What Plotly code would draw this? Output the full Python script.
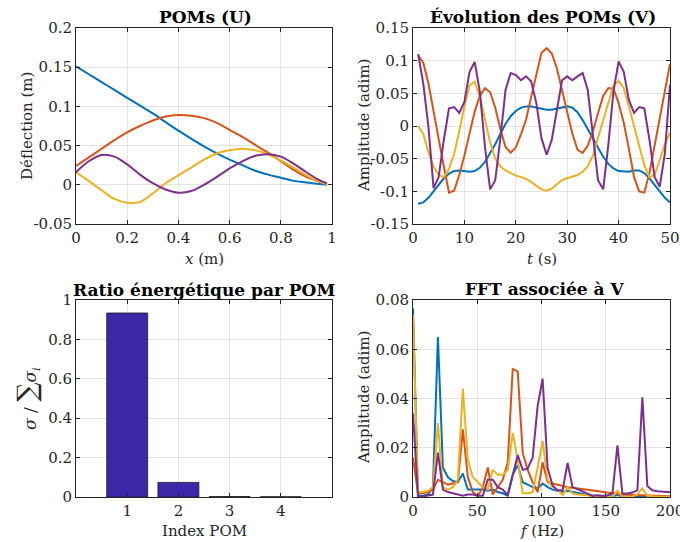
import plotly.graph_objects as go

# ---------------- data ----------------
# POMs (U)
x_pos = [0, 0.05, 0.1, 0.15, 0.2, 0.25, 0.3, 0.35, 0.4, 0.45, 0.5,
         0.55, 0.6, 0.65, 0.7, 0.75, 0.8, 0.85, 0.9, 0.95, 0.98]
u1 = [0.151, 0.141, 0.131, 0.121, 0.111, 0.101, 0.091, 0.080, 0.069, 0.059, 0.049,
      0.040, 0.032, 0.025, 0.018, 0.013, 0.009, 0.005, 0.003, 0.001, 0.000]
u2 = [0.024, 0.035, 0.046, 0.057, 0.067, 0.075, 0.082, 0.087, 0.089, 0.088, 0.085,
      0.079, 0.070, 0.061, 0.051, 0.041, 0.030, 0.019, 0.010, 0.004, 0.001]
u3 = [0.016, 0.005, -0.007, -0.018, -0.023, -0.022, -0.011, 0.002, 0.012, 0.022, 0.032,
      0.040, 0.044, 0.046, 0.044, 0.039, 0.031, 0.022, 0.012, 0.004, 0.001]
u4 = [0.016, 0.030, 0.038, 0.036, 0.026, 0.013, 0.002, -0.006, -0.010, -0.008, 0.000,
      0.010, 0.021, 0.030, 0.037, 0.039, 0.036, 0.027, 0.016, 0.006, 0.002]

# Évolution des POMs (V)
t_s = [1, 2, 3, 4, 5, 6, 7, 8, 9, 10, 11, 12, 13, 14, 15, 16, 17, 18, 19, 20,
       21, 22, 23, 24, 25, 26, 27, 28, 29, 30, 31, 32, 33, 34, 35, 36, 37, 38, 39, 40,
       41, 42, 43, 44, 45, 46, 47, 48, 49, 50]
v1 = [-0.119, -0.117, -0.110, -0.100, -0.090, -0.080, -0.073, -0.069, -0.068, -0.069,
      -0.070, -0.069, -0.064, -0.055, -0.042, -0.028, -0.012, 0.003, 0.015, 0.023,
      0.028, 0.030, 0.030, 0.028, 0.026, 0.025, 0.025, 0.027, 0.029, 0.030,
      0.028, 0.021, 0.009, -0.005, -0.020, -0.034, -0.047, -0.058, -0.065, -0.069,
      -0.070, -0.070, -0.068, -0.068, -0.072, -0.080, -0.090, -0.100, -0.110, -0.117]
v2 = [0.108, 0.097, 0.065, 0.025, -0.020, -0.062, -0.102, -0.099, -0.075, -0.045,
      -0.010, 0.022, 0.046, 0.058, 0.052, 0.028, -0.005, -0.032, -0.041, -0.033,
      -0.013, 0.010, 0.045, 0.080, 0.112, 0.119, 0.111, 0.088, 0.055, 0.020,
      -0.012, -0.036, -0.041, -0.030, -0.008, 0.020, 0.046, 0.058, 0.057, 0.035,
      0.005, -0.035, -0.078, -0.100, -0.102, -0.072, -0.030, 0.015, 0.055, 0.095]
v3 = [0.000, -0.012, -0.040, -0.062, -0.075, -0.078, -0.066, -0.043, -0.008, 0.030,
      0.062, 0.068, 0.045, 0.010, -0.025, -0.050, -0.062, -0.068, -0.072, -0.076,
      -0.078, -0.081, -0.086, -0.092, -0.097, -0.099, -0.096, -0.089, -0.083, -0.080,
      -0.078, -0.075, -0.070, -0.062, -0.045, -0.018, 0.012, 0.037, 0.062, 0.069,
      0.058, 0.030, 0.000, -0.032, -0.060, -0.078, -0.075, -0.052, -0.028, -0.010]
v4 = [0.110, 0.065, -0.001, -0.095, -0.078, -0.021, 0.027, 0.029, 0.020, 0.037,
      0.083, 0.098, 0.053, -0.032, -0.097, -0.083, -0.019, 0.055, 0.081, 0.078,
      0.070, 0.076, 0.068, 0.035, -0.019, -0.044, -0.021, 0.025, 0.070, 0.076,
      0.070, 0.076, 0.081, 0.055, -0.019, -0.083, -0.097, -0.029, 0.053, 0.099,
      0.083, 0.040, 0.020, 0.029, 0.027, -0.021, -0.078, -0.093, -0.042, 0.063]

# Ratio énergétique par POM
pom_index = [1, 2, 3, 4]
energy_ratio = [0.934, 0.074, 0.002, 0.001]

# FFT associée à V
freq = [0, 3.88, 7.76, 11.64, 15.52, 19.4, 23.28, 27.16, 31.04, 34.92, 38.8, 42.68,
        46.56, 50.44, 54.32, 58.2, 62.08, 65.96, 69.84, 73.72, 77.6, 81.48, 85.36,
        89.24, 93.12, 97.0, 100.88, 104.76, 108.64, 112.52, 116.4, 120.28, 124.16,
        128.04, 131.92, 135.8, 139.68, 143.56, 147.44, 151.32, 155.2, 159.08, 162.96,
        166.84, 170.72, 174.6, 178.48, 182.36, 186.24, 190.12, 194.0, 197.88, 201.76]
fft1 = [0.0765, 0.0005, 0.0005, 0.001, 0.004, 0.065, 0.012, 0.008, 0.0065, 0.006, 0.0095,
        0.003, 0.003, 0.003, 0.003, 0.0025, 0.003, 0.002, 0.0015, 0.0005, 0.009, 0.013,
        0.006, 0.005, 0.004, 0.0035, 0.0055, 0.004, 0.003, 0.0025, 0.002, 0.0025, 0.002,
        0.0015, 0.001, 0.0008, 0.0006, 0.0005, 0.0004, 0.0004, 0.0003, 0.0008, 0.0003,
        0.0002, 0.0002, 0.0002, 0.0005, 0.0002, 0.0002, 0.0001, 0.0001, 0.0001, 0.0001]
fft2 = [0.016, 0.0015, 0.0015, 0.002, 0.003, 0.007, 0.006, 0.005, 0.0055, 0.006, 0.0275,
        0.008, 0.002, 0.0003, 0.004, 0.012, 0.001, 0.004, 0.007, 0.014, 0.052, 0.051,
        0.018, 0.011, 0.006, 0.002, 0.014, 0.006, 0.0055, 0.005, 0.0045, 0.004, 0.0038,
        0.0035, 0.003, 0.0028, 0.0025, 0.0023, 0.002, 0.0018, 0.0016, 0.0012, 0.001,
        0.0009, 0.0008, 0.0007, 0.0006, 0.0005, 0.0004, 0.0004, 0.0003, 0.0003, 0.0003]
fft3 = [0.074, 0.002, 0.002, 0.0025, 0.004, 0.030, 0.004, 0.003, 0.004, 0.007, 0.044,
        0.015, 0.008, 0.006, 0.004, 0.003, 0.011, 0.009, 0.009, 0.011, 0.026, 0.015,
        0.0015, 0.0015, 0.002, 0.012, 0.0227, 0.007, 0.004, 0.003, 0.0008, 0.004, 0.0015,
        0.001, 0.0008, 0.0005, 0.0003, 0.0001, 0.0001, 0.0001, 0.0002, 0.0025, 0.0001,
        0.0001, 0.0002, 0.001, 0.0035, 0.0005, 0.0002, 0.0001, 0.0001, 0.0001, 0.0001]
fft4 = [0.034, 0.0001, 0.0002, 0.0005, 0.001, 0.018, 0.003, 0.002, 0.0015, 0.001, 0.0005,
        0.001, 0.001, 0.0005, 0.0005, 0.007, 0.007, 0.004, 0.003, 0.0008, 0.009, 0.017,
        0.011, 0.0115, 0.016, 0.037, 0.048, 0.0118, 0.0047, 0.0027, 0.0027, 0.0138, 0.004,
        0.003, 0.0023, 0.0014, 0.0004, 0.0007, 0.0004, 0.0007, 0.0014, 0.021, 0.0014,
        0.0014, 0.0018, 0.0027, 0.0405, 0.0045, 0.0027, 0.0023, 0.002, 0.002, 0.002]

# tick labels
tl_x_ticks = [0, 0.2, 0.4, 0.6, 0.8, 1]
tl_x_text = ["0", "0.2", "0.4", "0.6", "0.8", "1"]
tl_y_ticks = [-0.05, 0, 0.05, 0.1, 0.15, 0.2]
tl_y_text = ["-0.05", "0", "0.05", "0.1", "0.15", "0.2"]
tr_x_ticks = [0, 10, 20, 30, 40, 50]
tr_x_text = ["0", "10", "20", "30", "40", "50"]
tr_y_ticks = [-0.15, -0.1, -0.05, 0, 0.05, 0.1, 0.15]
tr_y_text = ["-0.15", "-0.1", "-0.05", "0", "0.05", "0.1", "0.15"]
bl_x_ticks = [1, 2, 3, 4]
bl_x_text = ["1", "2", "3", "4"]
bl_y_ticks = [0, 0.2, 0.4, 0.6, 0.8, 1]
bl_y_text = ["0", "0.2", "0.4", "0.6", "0.8", "1"]
br_x_ticks = [0, 50, 100, 150, 200]
br_x_text = ["0", "50", "100", "150", "200"]
br_y_ticks = [0, 0.02, 0.04, 0.06, 0.08]
br_y_text = ["0", "0.02", "0.04", "0.06", "0.08"]

# ---------------- styling ----------------
# the figure is a little wider than the 680 px window, so that the last tick
# label of the FFT panel is cut by the window edge as in the original
W, H = 700, 542
COLORS = ["#0072BD", "#D95319", "#EDB120", "#7E2F8E"]
BAR_COLOR = "#3E26A8"
FONT = "DejaVu Serif"
AX_COLOR = "#262626"
GRID = "#e3e3e3"


def px_x(p):
    return p / W


def px_y(p):
    return 1 - p / H


fig = go.Figure()

for ys, c in zip([u1, u2, u3, u4], COLORS):
    fig.add_trace(go.Scatter(x=x_pos, y=ys, mode="lines", line=dict(color=c, width=2, shape="spline"),
                             xaxis="x", yaxis="y", showlegend=False))
for ys, c in zip([v1, v2, v3, v4], COLORS):
    fig.add_trace(go.Scatter(x=t_s, y=ys, mode="lines", line=dict(color=c, width=2),
                             xaxis="x2", yaxis="y2", showlegend=False))
fig.add_trace(go.Bar(x=pom_index, y=energy_ratio, width=0.8,
                     marker=dict(color=BAR_COLOR, line=dict(color="#1a1a1a", width=0.8)),
                     xaxis="x3", yaxis="y3", showlegend=False))
for ys, c in zip([fft1, fft2, fft3, fft4], COLORS):
    fig.add_trace(go.Scatter(x=freq, y=ys, mode="lines", line=dict(color=c, width=2),
                             xaxis="x4", yaxis="y4", showlegend=False))

tickfont = dict(family=FONT, size=15, color=AX_COLOR)


def axis_common(rng, tv, tt, domain, anchor):
    return dict(range=rng, tickvals=tv, ticktext=tt, domain=domain, anchor=anchor,
                automargin=False,
                showline=True, mirror="ticks", linecolor=AX_COLOR, linewidth=1,
                ticks="inside", ticklen=4, tickcolor=AX_COLOR, tickwidth=1,
                showgrid=True, gridcolor=GRID, gridwidth=1, zeroline=False,
                tickfont=tickfont, fixedrange=True)


col1 = [px_x(76), px_x(332)]
col2 = [px_x(413), px_x(670)]
row1 = [px_y(224), px_y(28)]
row2 = [px_y(497), px_y(300)]

fig.update_layout(
    template="none",
    width=W, height=H, autosize=False,
    margin=dict(l=0, r=0, t=0, b=0, pad=0),
    paper_bgcolor="white", plot_bgcolor="white",
    font=dict(family=FONT, color=AX_COLOR),
    bargap=0,
    xaxis=axis_common([0, 1], tl_x_ticks, tl_x_text, col1, "y"),
    yaxis=axis_common([-0.05, 0.2], tl_y_ticks, tl_y_text, row1, "x"),
    xaxis2=axis_common([0, 50], tr_x_ticks, tr_x_text, col2, "y2"),
    yaxis2=axis_common([-0.15, 0.15], tr_y_ticks, tr_y_text, row1, "x2"),
    xaxis3=axis_common([0, 5], bl_x_ticks, bl_x_text, col1, "y3"),
    yaxis3=axis_common([0, 1], bl_y_ticks, bl_y_text, row2, "x3"),
    xaxis4=axis_common([0, 200], br_x_ticks, br_x_text, col2, "y4"),
    yaxis4=axis_common([0, 0.08], br_y_ticks, br_y_text, row2, "x4"),
)

ann = []
title_font = dict(family=FONT, size=17, color="#000000")
label_font = dict(family=FONT, size=15, color=AX_COLOR)
# titles
for txt, cx, cy in [("<b>POMs (U)</b>", 206, 17),
                    ("<b>Évolution des POMs (V)</b>", 543, 17),
                    ("<b>Ratio énergétique par POM</b>", 204, 290),
                    ("<b>FFT associée à V</b>", 544, 289)]:
    ann.append(dict(text=txt, x=px_x(cx), y=px_y(cy), xref="paper", yref="paper",
                    xanchor="center", yanchor="middle", showarrow=False, font=title_font))
# x labels
for txt, cx, cy in [("<i>x</i> (m)", 204, 259),
                    ("<i>t</i> (s)", 541.5, 259),
                    ("Index POM", 204, 531),
                    ("<i>f</i> (Hz)", 541.5, 531)]:
    ann.append(dict(text=txt, x=px_x(cx), y=px_y(cy), xref="paper", yref="paper",
                    xanchor="center", yanchor="middle", showarrow=False, font=label_font))
# y labels
sigma_label = ("<span style='font-size:17px'><i>σ</i> / </span>"
               "<span style='font-size:27px'>∑</span>"
               "<span style='font-size:17px'><i>σ<sub>i</sub></i></span>")
for txt, cx, cy in [("Déflection (m)", 27, 126),
                    ("Amplitude (adim)", 364, 126),
                    (sigma_label, 27, 399),
                    ("Amplitude (adim)", 364, 398)]:
    ann.append(dict(text=txt, x=px_x(cx), y=px_y(cy), xref="paper", yref="paper",
                    xanchor="center", yanchor="middle", textangle=-90, showarrow=False,
                    font=label_font))
fig.update_layout(annotations=ann)

fig.write_html("out.html",
               config=dict(displayModeBar=False, staticPlot=True),
               post_script="document.body.style.margin='0';document.body.style.padding='0';"
                           "document.documentElement.style.overflow='hidden';"
                           "document.body.style.overflow='hidden';")
